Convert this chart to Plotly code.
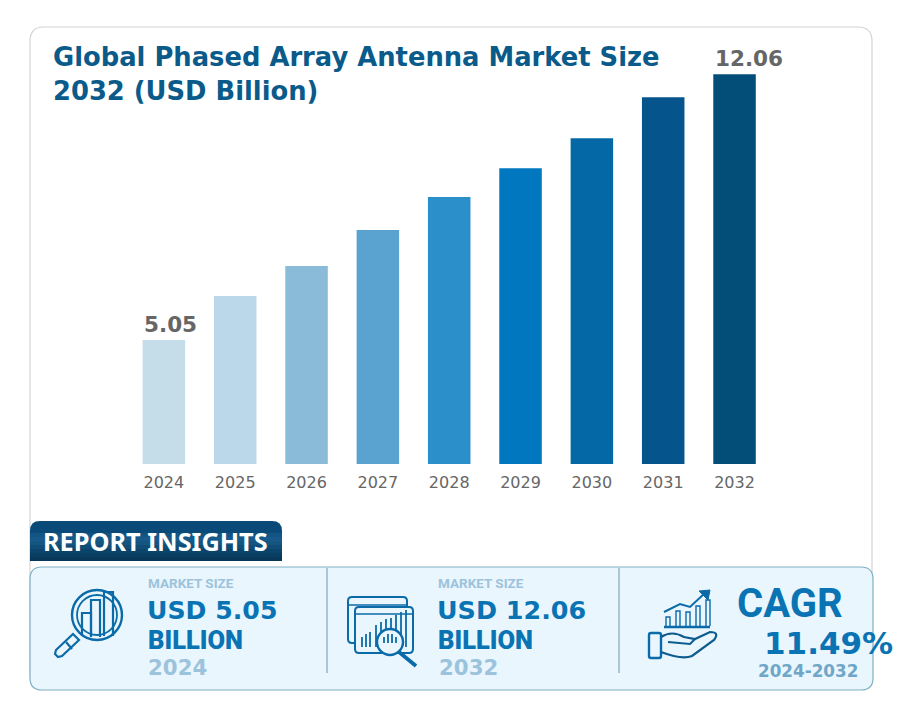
import plotly.graph_objects as go

W, H = 900, 718

years = ["2024", "2025", "2026", "2027", "2028", "2029", "2030", "2031", "2032"]
market_size = [5.05, 6.21, 7.00, 7.95, 8.82, 9.58, 10.37, 11.45, 12.06]
label_years = ["2024", "2032"]
label_values = [5.05, 12.06]
bar_colors = ["#c5dce9", "#bbd8ea", "#8abbd9", "#5aa2cf", "#2b8fca",
              "#0077bf", "#0568a6", "#05548c", "#024e78"]
title_text = "Global Phased Array Antenna Market Size<br>2032 (USD Billion)"

NAVY = "#0973b3"
ICON = "#0b6ba8"
PALE = "#9cc3dc"
PANEL = "#e9f6fe"


def px(x):
    return x / W


def py(y):
    return 1 - y / H


def pth(points, close=False):
    s = "M" + " L".join(f"{px(x):.5f},{py(y):.5f}" for x, y in points)
    return s + (" Z" if close else "")


def rrect(x0, y0, x1, y1, r, corners=(1, 1, 1, 1)):
    tl, tr, br, bl = [r * c for c in corners]
    def P(x, y):
        return f"{px(x):.5f},{py(y):.5f}"
    return (f"M{P(x0 + tl, y0)} L{P(x1 - tr, y0)} Q{P(x1, y0)} {P(x1, y0 + tr)} "
            f"L{P(x1, y1 - br)} Q{P(x1, y1)} {P(x1 - br, y1)} "
            f"L{P(x0 + bl, y1)} Q{P(x0, y1)} {P(x0, y1 - bl)} "
            f"L{P(x0, y0 + tl)} Q{P(x0, y0)} {P(x0 + tl, y0)} Z")


shapes = []


def path(d, color=None, width=0, fill=None, layer="above"):
    shapes.append(dict(type="path", xref="paper", yref="paper", path=d, layer=layer,
                       line=dict(color=color or "rgba(0,0,0,0)", width=width),
                       fillcolor=fill or "rgba(0,0,0,0)"))


def circle(cx, cy, r, color, width, fill=None):
    shapes.append(dict(type="circle", xref="paper", yref="paper",
                       x0=px(cx - r), x1=px(cx + r), y0=py(cy - r), y1=py(cy + r),
                       line=dict(color=color, width=width),
                       fillcolor=fill or "rgba(0,0,0,0)"))


def rect(x0, y0, x1, y1, fill):
    shapes.append(dict(type="rect", xref="paper", yref="paper",
                       x0=px(x0), x1=px(x1), y0=py(y0), y1=py(y1),
                       line=dict(width=0), fillcolor=fill))


# outer card
path(rrect(30, 27, 872, 685, 14), color="#d4d4d4", width=1.2, fill="#ffffff", layer="below")

# header tab (vertical gradient built of strips)
path(rrect(30, 521, 282, 561, 10, corners=(1, 1, 0, 0)), fill="#0a4a78")
tab_strips = [(533, "#115585"), (537, "#16598a"), (541, "#14567f"), (545, "#104d76"),
              (549, "#0c456c"), (553, "#093e63"), (557, "#07385a")]
for y, c in tab_strips:
    rect(30, y, 282, y + 4, c)

# insights panel
path(rrect(30, 567, 873, 690, 12), color="#7fb0c4", width=1.2, fill=PANEL)
for x in (327, 619):
    path(pth([(x, 568), (x, 673)]), color="#7fa8bd", width=1.2)

# icon 1: magnifier over bars
circle(97, 615, 25, ICON, 2.4)
circle(97, 615, 20, ICON, 1.8)
for x0, y0, x1, y1 in [(82, 613, 91, 636), (91, 600, 100, 637), (104, 592, 113, 636)]:
    path(pth([(x0, y1), (x0, y0), (x1, y0), (x1, y1)]), color=ICON, width=2.2)
path(pth([(73, 634), (79, 640), (62, 656), (58, 657), (55, 654), (56, 650)], True),
     color=ICON, width=2.2)
path(pth([(66, 642), (72, 649)]), color=ICON, width=2.2)

# icon 2: windows and magnifier
path(rrect(348, 597, 407, 643, 4), color=ICON, width=2)
path(rrect(355, 607, 413, 653, 4), color=ICON, width=2, fill=PANEL)
path(pth([(348, 605), (407, 605)]), color=ICON, width=1.5)
path(pth([(355, 614), (413, 614)]), color=ICON, width=1.5)
for x, top in [(362, 637), (366, 634), (370, 632), (376, 625), (381, 622),
               (386, 619), (391, 618), (396, 615), (401, 612), (406, 610)]:
    path(pth([(x, 647), (x, top)]), color=ICON, width=1.8)
circle(390, 642, 13, ICON, 2.4, fill=PANEL)
for x, top in [(384, 637), (388, 634), (392, 634), (396, 637)]:
    path(pth([(x, 643), (x, top)]), color=ICON, width=1.8)
path(pth([(399, 652), (416, 666)]), color=ICON, width=3.8)

# icon 3: open hand with rising chart
path(pth([(664, 612), (680, 604), (690, 607), (705, 593)]), color=ICON, width=2)
path(pth([(699, 591), (710, 590), (708, 600)], True), color=ICON, fill=ICON, width=1)
for x, top in [(668, 617), (678, 611), (688, 612), (698, 606), (708, 600)]:
    path(pth([(x - 2, 626), (x - 2, top), (x + 2, top), (x + 2, 626)]), color=ICON, width=1.4)
path(pth([(664, 627), (710, 627)]), color=ICON, width=2.4)
path(rrect(649, 633, 661, 658, 2), color=ICON, width=2.4)
path(f"M{px(661):.5f},{py(637):.5f} Q{px(672):.5f},{py(630):.5f} {px(684):.5f},{py(637):.5f} "
     f"L{px(695):.5f},{py(639):.5f} L{px(710):.5f},{py(632):.5f} "
     f"Q{px(720):.5f},{py(632):.5f} {px(714):.5f},{py(640):.5f} "
     f"L{px(692):.5f},{py(656):.5f} Q{px(682):.5f},{py(660):.5f} {px(661):.5f},{py(652):.5f}",
     color="#0d5c8e", width=2.2)
path(pth([(668, 642), (690, 644), (695, 639)]), color="#0d5c8e", width=2)


def text(s, x, y, size, color, family, weight="bold"):
    return dict(text=s, x=px(x), y=py(y), xref="paper", yref="paper",
                xanchor="left", yanchor="middle", showarrow=False,
                font=dict(size=size, color=color, family=family, weight=weight))


DV = "DejaVu Sans"
RB = "Roboto"
annotations = [
    text("REPORT INSIGHTS", 41, 541, 25.3, "#ffffff", "Noto Sans"),
    text("MARKET SIZE", 146, 583, 13.5, PALE, RB),
    text("USD 5.05", 145, 610, 25.2, NAVY, DV),
    text("BILLION", 146, 640, 25.5, NAVY, RB, 900),
    text("2024", 146, 667, 21.3, PALE, DV),
    text("MARKET SIZE", 436, 583, 13.5, PALE, RB),
    text("USD 12.06", 435, 610, 25.4, NAVY, DV),
    text("BILLION", 436, 640, 25.5, NAVY, RB, 900),
    text("2032", 437, 667, 21.3, PALE, DV),
    text("CAGR", 735, 603, 40, NAVY, RB),
    text("11.49%", 762, 642.5, 31, NAVY, DV),
    text("2024-2032", 756, 670.5, 16.8, "#6fa6c8", DV),
]
# value labels start at the bar's left edge (numeric-looking categories are addressed by index)
for yr, val in zip(label_years, label_values):
    annotations.append(dict(text=f"{val:.2f}", x=years.index(yr), y=val, xref="x", yref="y",
                            xanchor="left", yanchor="bottom", showarrow=False,
                            xshift=-21, yshift=2, borderpad=0,
                            font=dict(family=DV, size=21.5, color="#666666", weight="bold")))

fig = go.Figure(go.Bar(
    x=years, y=market_size, marker=dict(color=bar_colors, line=dict(width=0)),
    cliponaxis=False, hoverinfo="x+y",
))

fig.update_layout(
    width=W, height=H, autosize=False,
    margin=dict(l=0, r=0, t=0, b=0),
    paper_bgcolor="#ffffff", plot_bgcolor="rgba(0,0,0,0)",
    showlegend=False, bargap=0.404,
    title=dict(text=f"<b>{title_text}</b>", x=px(53), xanchor="left", y=py(66), yanchor="middle",
               xref="paper", yref="paper",
               font=dict(family=DV, size=25.8, color="#0a5a8a")),
    xaxis=dict(domain=[px(128.2), px(770.2)], type="category", range=[-0.5, 8.5],
               showgrid=False, zeroline=False, showline=False, ticks="", ticklabelstandoff=7,
               tickfont=dict(family=DV, size=16, color="#666666")),
    yaxis=dict(domain=[py(464), py(40)], range=[1.78, 12.96], visible=False),
    shapes=shapes, annotations=annotations,
)

fig.write_html("out.html", post_script="document.body.style.margin='0';",
               config=dict(displayModeBar=False))
